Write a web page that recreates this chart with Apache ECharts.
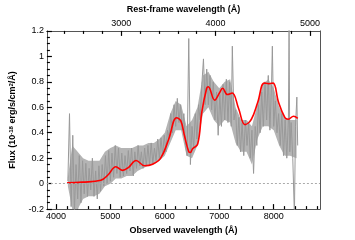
<!DOCTYPE html>
<html>
<head>
<meta charset="utf-8">
<script src="https://cdn.jsdelivr.net/npm/echarts@6/dist/echarts.min.js"></script>
<style>html,body{margin:0;padding:0;background:#fff}#c{width:355px;height:240px}</style>
</head>
<body>
<div id="c"></div>
<script>
// ---- data ----
const obsWave = [4220,4250,4280,4310,4340,4370,4400,4430,4460,4490,4520,4550,4580,4610,4640,4670,4700,4730,4760,4790,4820,4850,4880,4910,4940,4970,5000,5030,5060,5090,5120,5150,5180,5210,5240,5270,5300,5330,5360,5390,5420,5450,5480,5510,5540,5570,5600,5630,5660,5690,5720,5750,5780,5810,5840,5870,5900,5930,5960,5990,6020,6050,6080,6110,6140,6170,6200,6230,6260,6290,6320,6350,6380,6410,6440,6470,6500,6530,6560,6590,6620,6650,6680,6710,6740,6770,6800,6830,6860,6890,6920,6950,6980,7010,7040,7070,7100,7130,7160,7190,7220,7240,7270,7300,7330,7360,7390,7420,7450,7480,7510,7540,7570,7600,7630,7660,7690,7720,7750,7780,7810,7840,7870,7900,7930,7960,7975,8000,8030,8060,8090,8120,8150,8180,8210,8240,8270,8282,8295,8320,8350,8380,8400,8425,8440];
const obsFlux = [0.02,0.55,-0.18,0.38,-0.22,0.15,-0.12,0.22,-0.15,0.18,-0.08,0.16,-0.1,0.12,-0.05,0.2,-0.1,0.1,-0.12,0.14,-0.06,0.15,-0.02,0.22,0.0,0.26,0.02,0.24,0.05,0.3,0.08,0.28,0.05,0.24,0.06,0.22,0.08,0.26,0.1,0.28,0.06,0.25,0.12,0.3,0.14,0.25,0.12,0.28,0.14,0.3,0.15,0.32,0.16,0.28,0.18,0.35,0.2,0.36,0.22,0.38,0.25,0.42,0.36,0.55,0.4,0.62,0.45,0.67,0.48,0.62,0.42,0.55,0.3,0.22,1.14,0.15,0.45,0.28,0.55,0.35,0.62,0.5,0.78,0.98,0.62,0.9,0.62,0.85,0.58,0.8,0.5,0.72,0.38,0.7,0.45,0.78,0.5,0.82,0.48,0.8,0.45,1.08,0.5,0.58,0.3,0.52,0.25,0.48,0.22,0.5,0.3,0.48,0.2,0.42,0.08,0.45,0.3,0.62,0.4,0.72,0.45,0.8,0.5,0.85,0.42,0.78,1.08,0.45,0.65,0.4,0.55,0.3,0.55,0.22,0.5,0.2,0.5,1.25,0.25,0.48,0.2,-0.25,0.45,0.68,0.3];
// noise envelope of the spectrum
const bandWave = [4220,4300,4400,4500,4600,4700,4800,4900,5000,5100,5200,5300,5400,5500,5600,5700,5800,5900,6000,6100,6200,6300,6400,6500,6600,6700,6800,6900,7000,7100,7200,7300,7400,7500,7600,7700,7800,7900,8000,8100,8200,8300,8420];
const bandLow  = [-0.02,-0.2,-0.2,-0.12,-0.1,-0.1,-0.08,-0.02,0.0,0.04,0.04,0.06,0.06,0.1,0.12,0.14,0.15,0.18,0.22,0.32,0.42,0.42,0.22,0.2,0.3,0.55,0.6,0.5,0.45,0.5,0.48,0.32,0.25,0.25,0.15,0.35,0.45,0.45,0.42,0.3,0.22,0.22,0.2];
const bandHigh = [0.05,0.3,0.25,0.2,0.18,0.18,0.18,0.25,0.28,0.3,0.28,0.28,0.28,0.3,0.3,0.32,0.32,0.35,0.4,0.55,0.65,0.62,0.45,0.5,0.6,0.85,0.88,0.8,0.75,0.8,0.82,0.6,0.5,0.5,0.45,0.62,0.78,0.82,0.75,0.6,0.52,0.5,0.5];
const smoothWave = [4205,4486,4826,4956,5102,5220,5336,5472,5630,5776,5924,6070,6216,6294,6364,6440,6470,6510,6604,6681,6769,6798,6915,7003,7061,7149,7237,7355,7473,7590,7707,7825,7913,7989,8089,8206,8265,8364,8441];
const smoothFlux = [0.007,0.012,0.026,0.068,0.133,0.104,0.128,0.182,0.141,0.153,0.2,0.347,0.518,0.493,0.372,0.25,0.245,0.274,0.311,0.566,0.749,0.761,0.656,0.712,0.749,0.70,0.712,0.59,0.464,0.506,0.639,0.79,0.785,0.79,0.639,0.518,0.506,0.53,0.513];
const redshift1 = 1.733;
const obsMajor = [4000,5000,6000,7000,8000];
const obsMinor = [4200,4400,4600,4800,5200,5400,5600,5800,6200,6400,6600,6800,7200,7400,7600,7800,8200,8400,8600,8800];
const restMajor = [3000,4000,5000];
const restMinor = [2400,2600,2800,3200,3400,3600,3800,4200,4400,4600,4800];
const obsMin = 3835, obsMax = 8850;
const fluxMin = -0.2, fluxMax = 1.2, fluxStep = 0.2;

const font = '"Liberation Sans", Arial, sans-serif';
const tickColor = '#000';
function xAx(pos, min, max, ticks, len, labels, name) {
  return {
    type: 'value', position: pos, min: min, max: max,
    axisLine: {show: true, onZero: false, lineStyle: {color: '#555', width: 1}},
    splitLine: {show: false},
    axisTick: {show: true, inside: true, length: len, customValues: ticks, lineStyle: {color: tickColor, width: 1.2}},
    axisLabel: labels ? {show: true, customValues: ticks, formatter: v => String(Math.round(v)), fontSize: 9, color: '#000', margin: 3, fontFamily: font} : {show: false},
    name: name || '', nameLocation: 'middle', nameGap: 14,
    nameTextStyle: {fontWeight: 'bold', fontSize: 9, color: '#000', fontFamily: font}
  };
}
const chart = echarts.init(document.getElementById('c'), null, {renderer: 'canvas'});
chart.setOption({
  animation: false,
  grid: {left: 35, right: 35, top: 23, bottom: 25},
  xAxis: [
    xAx('bottom', obsMin, obsMax, obsMajor, 5, true, 'Observed wavelength (Å)'),
    xAx('bottom', obsMin, obsMax, obsMinor, 3, false),
    xAx('top', obsMin / redshift1, obsMax / redshift1, restMajor, 5, true, 'Rest-frame wavelength (Å)'),
    xAx('top', obsMin / redshift1, obsMax / redshift1, restMinor, 3, false)
  ],
  yAxis: [{
    type: 'value', position: 'left', min: fluxMin, max: fluxMax, interval: fluxStep,
    axisLine: {show: true, onZero: false, lineStyle: {color: '#555', width: 1}},
    splitLine: {show: false},
    axisTick: {show: true, inside: true, length: 5, lineStyle: {color: tickColor, width: 1.2}},
    minorTick: {show: true, splitNumber: 4, length: 3, lineStyle: {color: tickColor, width: 1.2}},
    axisLabel: {fontSize: 9, color: '#000', margin: 3, fontFamily: font},
    name: 'Flux (10{s|-18} erg/s/cm{s|2}/Å)', nameLocation: 'middle', nameGap: 20,
    nameTextStyle: {fontWeight: 'bold', fontSize: 9, color: '#000', fontFamily: font,
      rich: {s: {fontSize: 6, fontWeight: 'bold', verticalAlign: 'top', fontFamily: font, padding: [0,0,4,0]}}}
  }, {
    type: 'value', position: 'right', min: fluxMin, max: fluxMax, interval: fluxStep,
    axisLine: {show: true, onZero: false, lineStyle: {color: '#555', width: 1}},
    axisTick: {show: false}, axisLabel: {show: false}, splitLine: {show: false}
  }],
  series: [
    {type: 'custom', xAxisIndex: 0, yAxisIndex: 0, data: [0], silent: true, z: 1,
      renderItem: function (params, api) {
        const pts = [];
        for (let i = 0; i < bandWave.length; i++) pts.push(api.coord([bandWave[i], bandHigh[i]]));
        for (let i = bandWave.length - 1; i >= 0; i--) pts.push(api.coord([bandWave[i], bandLow[i]]));
        return {type: 'polygon', shape: {points: pts}, style: {fill: '#b4b4b4', stroke: null},
          clipPath: {type: 'rect', shape: {x: params.coordSys.x, y: params.coordSys.y, width: params.coordSys.width, height: params.coordSys.height}}};
      }},
    {type: 'line', xAxisIndex: 0, yAxisIndex: 0, data: obsWave.map((w, i) => [w, obsFlux[i]]), symbol: 'none',
      lineStyle: {color: '#999', width: 1}, z: 2,
      markLine: {silent: true, symbol: 'none', label: {show: false},
        lineStyle: {color: '#aaa', type: [2, 2], width: 1}, data: [{yAxis: 0}]}},
    {type: 'line', xAxisIndex: 0, yAxisIndex: 0, data: smoothWave.map((w, i) => [w, smoothFlux[i]]), symbol: 'none', smooth: 0.4,
      lineStyle: {color: '#ff0000', width: 1.6}, z: 3}
  ]
});
</script>
</body>
</html>
